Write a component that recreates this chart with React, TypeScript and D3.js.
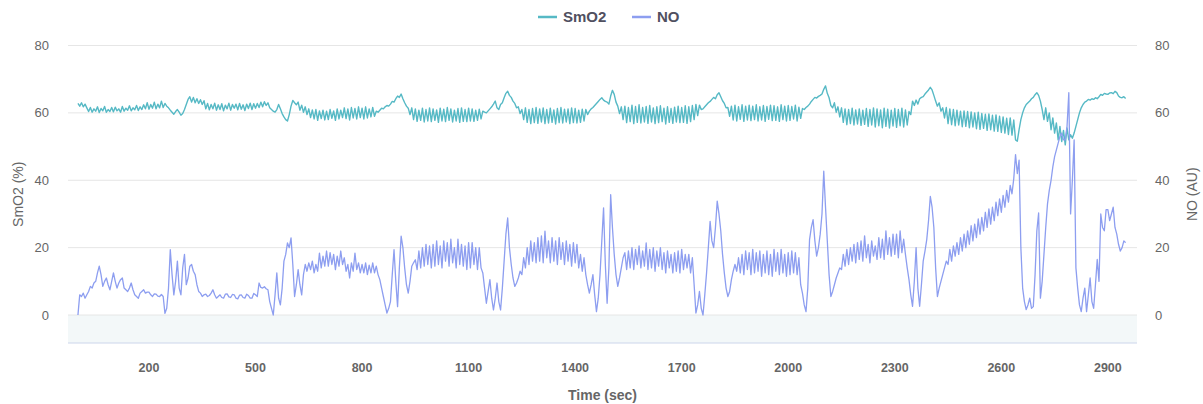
import React from 'react';
import * as d3 from 'd3';

const owidth = 1203;
const oheight = 404;
const left = 68;
const right = 1137;
const top = 45.5;
const bottom = 343;

// samples every 5 sec, from 0 to 2950
const step = 5;

const smo2 = [
  62.8, 62, 63, 61.8, 62.6, 61.5, 60.4, 61.6, 60.2, 61.2,
  60.5, 61.8, 60.1, 61.3, 60.6, 61.9, 60.2, 61, 60.4, 61.6,
  60.3, 61.7, 60.6, 61.2, 60.2, 61.9, 60.5, 61.4, 60.8, 62.1,
  60.6, 61.5, 60.9, 62.2, 60.7, 61.8, 61, 62.4, 61.2, 63,
  61.1, 62.5, 61.4, 63.2, 61.2, 62.6, 61.5, 63.5, 61.6, 62.8,
  62, 61.5, 60.8, 60.2, 59.6, 60.4, 61, 60.2, 59.3, 59.8,
  61, 62.5, 64, 64.8, 63.2, 64.6, 63, 64.2, 62.8, 63.9,
  62.5, 63.6, 61.2, 62.8, 60.9, 62.5, 61.2, 62.9, 60.8, 62.4,
  61, 62.7, 60.6, 62.3, 61.2, 62.9, 60.8, 62.5, 61.4, 62.6,
  60.9, 62.8, 61.1, 62.4, 60.7, 62.6, 61.3, 62.9, 61, 62.7,
  61.4, 62.8, 61.6, 63.2, 61.8, 63.3, 62.2, 63, 61.5, 61,
  60.5, 60.2, 61, 62.5, 61.2, 59.8, 58.8, 58, 57.6, 59.5,
  62, 63.7, 63, 62.4, 63.2, 60.8, 62.3, 60.2, 61.8, 59.5,
  61.2, 58.6, 60.9, 58.2, 61, 57.8, 60.6, 58.3, 60.8, 57.9,
  60.5, 58, 61, 58.4, 60.6, 57.8, 61.2, 58.2, 60.8, 58.6,
  61.5, 58.3, 61.2, 57.9, 61.6, 58.5, 61.3, 58.2, 61.8, 58.6,
  61.4, 58.2, 61.8, 58.5, 61.2, 58.8, 61.6, 59, 60.5, 60.2,
  60.8, 61.4, 61.2, 61.8, 62.2, 62, 62.6, 63.4, 63.2, 64.2,
  65, 64.6, 65.6, 64.2, 63, 62, 61.4, 59.5, 61.5, 58,
  61.2, 57.5, 60.8, 57.8, 61.4, 57.3, 61, 57.6, 61.5, 57.4,
  61.2, 57.8, 60.9, 57.2, 61.4, 57.6, 61.1, 57.4, 61.6, 57.8,
  61.2, 57.3, 60.8, 57.6, 61.3, 57.2, 61.5, 57.5, 61, 57.4,
  61.4, 57.6, 61.2, 57.5, 60.8, 57.8, 61.1, 58.2, 60.5, 60.2,
  60, 60.6, 61.2, 61.8, 62.6, 63.5, 61.5, 61, 62.5, 63,
  64.5, 65.8, 66.4, 65.2, 64.6, 63.5, 62.8, 61.5, 61.8, 59.8,
  61, 58, 61.5, 57.2, 61, 56.8, 61.3, 57.1, 61.6, 56.9,
  61.2, 57.3, 61.5, 56.8, 61, 57, 61.4, 57.2, 60.9, 56.7,
  61.3, 57.1, 61.6, 57, 61.1, 57.3, 61.2, 56.8, 61.5, 57.1,
  61.3, 57, 60.8, 57.2, 61.1, 57.6, 61, 59.5, 60.5, 61.2,
  61.6, 62.2, 62.8, 63.4, 64, 64.5, 63.8, 63.4, 63.2, 62.6,
  65, 66.7, 65.5, 63.2, 62, 59.8, 61.8, 58, 62, 57.1,
  61.6, 57.4, 62.3, 56.8, 61.9, 57.2, 62.4, 57, 61.6, 57.3,
  61.9, 56.9, 62.2, 57.3, 61.5, 56.8, 61.8, 57.1, 62.1, 57.4,
  61.4, 56.7, 61.8, 57.2, 61.3, 56.9, 61.7, 57.3, 62, 57.1,
  61.6, 57.2, 62.1, 56.9, 61.8, 57.4, 62.2, 58, 62.5, 59.2,
  62.3, 61, 61.2, 61.8, 62.4, 63, 63.4, 64, 64.6, 64.2,
  65.4, 66, 64.8, 63.6, 62.8, 61.5, 61.6, 59, 62, 57.9,
  62.3, 57.6, 61.8, 58.1, 62.4, 57.5, 62, 57.9, 62.3, 57.7,
  62, 58, 62.4, 57.6, 61.8, 57.9, 62.2, 57.5, 61.9, 58.1,
  62.3, 57.7, 62.1, 57.8, 61.8, 57.5, 62.4, 58, 62, 57.6,
  62.2, 57.8, 61.9, 58.2, 62.3, 57.6, 61.7, 58.4, 61.3, 61,
  61.6, 62, 62.6, 63.4, 64, 64.6, 64.4, 64.9, 65.2, 65.6,
  67, 68, 65.8, 64.5, 62.2, 61.5, 63, 60.2, 61.8, 58.8,
  61.5, 57.2, 61.2, 56.5, 61, 56.8, 61.4, 56.4, 60.9, 56.7,
  61.2, 56.3, 60.8, 56.6, 61.3, 56, 61, 56.4, 61.5, 55.8,
  61.2, 56.2, 60.9, 55.6, 61.4, 56, 61.1, 55.5, 60.8, 56.1,
  61.3, 55.7, 61, 56.2, 61.4, 55.8, 60.9, 56.4, 60.4, 59.5,
  63.5, 62.2, 63.8, 62.6, 64.2, 64.6, 64.8, 65.6, 66.2, 66.8,
  67.6, 66.8, 65.2, 63.5, 62, 63, 60.5, 61.5, 58.5, 61.6,
  56.8, 61.2, 56.5, 61, 56.2, 60.8, 56.4, 60.5, 55.9, 60.6,
  56, 60.4, 55.6, 60.3, 55.8, 60, 55.3, 60.2, 55.1, 59.8,
  55.4, 59.6, 54.8, 59.7, 55, 59.3, 54.6, 59.4, 54.5, 59,
  54.2, 58.8, 54, 58.4, 53.6, 58.5, 53.4, 57.9, 52, 51.6,
  55, 58, 60, 61.5, 62.5, 63, 63.5, 64.2, 64.6, 65.4,
  66, 65.2, 63.5, 61, 58, 61.5, 57.5, 60, 55, 58.5,
  54, 57, 52, 56, 51.5, 54.8, 50.5, 55.5, 52, 53.5,
  52.5, 54, 56, 58, 60, 61.5, 62.5, 63.2, 63.5, 64,
  63.8, 64.2, 64, 64.5, 64.2, 64.8, 65.5, 65.2, 65.8, 65.6,
  65.5, 65.9, 66, 65.7, 66.4, 66, 65, 64.6, 64.5, 64.8,
  64.3,
];

const no = [
  0, 6, 5.5, 6.5, 5, 6, 7, 8.5, 8, 9.5,
  10, 12.5, 14.5, 12, 8.5, 10, 11, 9, 7.5, 10,
  12.5, 10, 8, 9.5, 10.5, 11, 8, 7.5, 7, 8,
  9.5, 7.5, 6, 5.5, 5, 6.5, 7, 7.5, 6.5, 6.8,
  6.8, 6, 5.5, 6.3, 6.2, 5.6, 5.5, 6.1, 5.5, 0.5,
  2, 8, 19.4, 12, 6, 10, 16, 8, 6, 14,
  18, 9, 11, 14.5, 15, 13, 12, 9, 7, 6.5,
  5.5, 6, 6.2, 5.5, 5.8, 6.5, 7.5, 6, 5, 5.5,
  6, 5.2, 5, 6.2, 6.3, 5.4, 5.2, 6.1, 6, 5,
  4.8, 5.9, 6, 5.2, 5, 6.2, 5.8, 5, 5, 6.4,
  6, 5.5, 9.5, 8.2, 8, 8.4, 7.8, 7.5, 4, 2,
  0, 6, 12.5, 5, 3, 8, 16, 18, 21.4, 20,
  22.9, 15, 5.5, 9, 13.5, 9, 6, 12, 15, 13,
  15.5, 13.5, 16, 12.5, 15, 13, 18.4, 14, 17.5, 14.5,
  19, 14.5, 18.5, 15, 18, 13.5, 17.5, 14.5, 19, 15,
  17, 13, 15, 11, 15.5, 13, 18.4, 13.5, 15.5, 12.5,
  15, 12.5, 15.5, 12, 14.8, 12.5, 15.5, 12.5, 14.5, 12,
  10.5, 8, 5.5, 3, 0.6, 2, 4, 12, 19.4, 10,
  2.5, 14, 23.4, 20, 14, 9, 6.5, 10, 14.5, 15.5,
  16.4, 13.5, 19, 14, 20, 14.5, 21, 15, 20.5, 14,
  21, 14.5, 22, 15, 20.5, 14, 22, 16, 21.5, 14.5,
  22.5, 15.5, 20, 14, 22.5, 15, 21, 14.5, 20.5, 13.5,
  21.5, 14, 21.5, 15, 20, 13.5, 20, 14, 12.5, 8,
  3.5, 7, 10.5, 5, 1.5, 5, 9.5, 4, 1.5, 8,
  16, 24, 28.8, 20, 15, 11, 8.5, 9.5, 11, 13,
  12, 17, 14, 20, 15, 22, 16, 21.5, 15.5, 23,
  16, 23.5, 15.5, 24.9, 17, 22, 15.5, 23, 16, 22,
  15, 23, 16.5, 21.5, 15, 22, 16, 21, 14.5, 21.5,
  15.5, 21, 14, 18, 13, 17, 12, 9, 6.5, 9,
  12, 6, 1, 5, 12, 22, 31.8, 15, 3.5, 14,
  35.7, 26, 18, 12, 8.5, 11, 14, 17, 18.5, 13.5,
  19, 14, 20, 13.5, 19.5, 15, 20.5, 14, 19, 14.5,
  21.4, 13.5, 19.5, 14, 20, 13, 19, 14.5, 20, 13.5,
  18.5, 12.5, 19, 14, 18, 12.5, 18.5, 13, 19, 12.5,
  19.5, 13.5, 18, 14, 18, 12.5, 17, 9, 0.6, 3,
  7, 2, 0, 6, 12.5, 20, 27.8, 22, 20, 26,
  33.8, 30, 25, 18, 12.5, 8, 5.5, 7, 10.5, 13,
  15, 13, 17, 12.5, 18, 12, 19, 13.5, 18.5, 12,
  19.5, 12.5, 18.5, 13, 19, 11.5, 18, 12.5, 19, 12,
  18, 11.5, 19.5, 13, 18.5, 12, 19.5, 12.5, 18, 11.5,
  18.5, 12, 19, 12.5, 18.5, 12, 17, 9, 6.5, 3,
  1, 8, 22.4, 26, 28.3, 22, 17.5, 20, 24, 30,
  42.7, 32, 22, 12, 5.5, 7, 9, 11, 12.5, 14,
  13.5, 18, 14.5, 19.5, 15, 20, 16, 21, 15.5, 21.5,
  16.5, 22, 16, 23.5, 17, 21, 15.5, 22, 17.5, 20.5,
  16.5, 23, 17, 22.5, 16.5, 25, 18, 23, 17.5, 24,
  18, 24, 17, 25, 18.5, 22.5, 18, 14, 10.5, 6,
  2.6, 10, 20, 8, 2.6, 9, 16, 19, 22.4, 28,
  35.2, 32, 26, 14, 5.5, 8, 10, 12, 14, 16,
  15, 19.5, 16, 20.5, 17.5, 21.5, 18, 23, 19, 24,
  20, 25, 21, 26.5, 22, 27, 23, 28.5, 24, 29,
  25, 30.5, 26, 31.5, 27, 32, 28, 33.5, 29.5, 34.5,
  30.5, 35.5, 32, 37, 33.5, 38.5, 36, 40.5, 47.6, 42,
  46, 20, 8, 4, 1.6, 3, 5, 2, 2.5, 12,
  25, 30.3, 5, 10, 18, 26, 33, 37, 40, 44,
  47, 49, 51, 53, 54, 52, 52, 56, 66, 30,
  40, 52, 14, 8, 3, 1, 5, 8, 1, 6,
  11, 4, 2, 9, 16.5, 10, 30, 26, 25, 31.3,
  31.3, 28, 30, 32, 26, 24, 21, 19, 20, 22,
  21.5,
];

const xTicks = [200, 500, 800, 1100, 1400, 1700, 2000, 2300, 2600, 2900];
const yTicks = [0, 20, 40, 60, 80];

const seriesNames = ['SmO2', 'NO'];
const seriesColors = ['#56b9c5', '#8d9ef0'];

const xScale = d3.scaleLinear().domain([-28, 2982]).range([left, right]);
const yScale = d3.scaleLinear().domain([-8.3, 80]).range([bottom, top]);

const line = d3.line<number>()
  .x((d, i) => xScale(i * step))
  .y(d => yScale(d));

const font = '"Liberation Sans", Arial, Helvetica, sans-serif';

export default function App() {
  return (
    <svg
      width={owidth}
      height={oheight}
      viewBox={`0 0 ${owidth} ${oheight}`}
      style={{ position: 'absolute', left: 0, top: 0, fontFamily: font }}
    >
      <rect width={owidth} height={oheight} fill="#fff" />
      {/* band below zero */}
      <rect
        x={left}
        y={yScale(0)}
        width={right - left}
        height={bottom - yScale(0)}
        fill="#f3f8f9"
      />
      {yTicks.map(t => (
        <line key={t} x1={left} x2={right} y1={yScale(t)} y2={yScale(t)} stroke="#e6e6e6" />
      ))}
      <line x1={left} x2={right} y1={bottom} y2={bottom} stroke="#ccd6eb" />

      <path d={line(smo2) ?? ''} fill="none" stroke={seriesColors[0]} strokeWidth={1.4} strokeLinejoin="round" />
      <path d={line(no) ?? ''} fill="none" stroke={seriesColors[1]} strokeWidth={1.3} strokeLinejoin="round" />

      {/* axes labels */}
      {yTicks.map(t => (
        <text key={'l' + t} x={49} y={yScale(t) + 4.5} textAnchor="end" fontSize={13} fill="#666">{t}</text>
      ))}
      {yTicks.map(t => (
        <text key={'r' + t} x={1155} y={yScale(t) + 4.5} textAnchor="start" fontSize={13} fill="#666">{t}</text>
      ))}
      {xTicks.map(t => (
        <text key={'x' + t} x={xScale(t)} y={372} textAnchor="middle" fontSize={12.5} fontWeight="bold" fill="#666">{t}</text>
      ))}
      <text x={(left + right) / 2} y={400} textAnchor="middle" fontSize={14} fontWeight="bold" fill="#666">Time (sec)</text>
      <text transform={`translate(23, ${(top + bottom) / 2}) rotate(-90)`} textAnchor="middle" fontSize={14} fill="#666">SmO2 (%)</text>
      <text transform={`translate(1197, ${(top + bottom) / 2}) rotate(-90)`} textAnchor="middle" fontSize={14} fill="#666">NO (AU)</text>

      {/* legend */}
      {seriesNames.map((name, i) => {
        const x0 = i === 0 ? 538 : 632;
        return (
          <g key={name}>
            <line x1={x0} x2={x0 + 19} y1={17} y2={17} stroke={seriesColors[i]} strokeWidth={2.5} />
            <text x={x0 + 25} y={22} fontSize={15} fontWeight="bold" fill="#505060">{name}</text>
          </g>
        );
      })}
    </svg>
  );
}
